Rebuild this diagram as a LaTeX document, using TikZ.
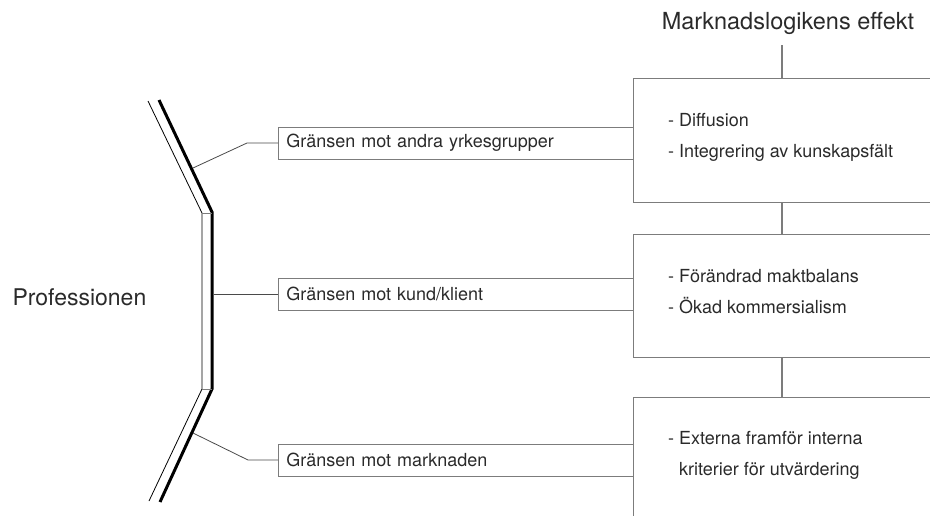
\documentclass[tikz,border=0pt]{standalone}
\usepackage{fontspec}
\setmainfont{TeX Gyre Heros}
\usepackage{tikz}
\usetikzlibrary{positioning}
\definecolor{linegray}{HTML}{7C7C7C}
\definecolor{textgray}{HTML}{2A2A2A}
\definecolor{koppgray}{HTML}{4A4A4A}

\begin{document}
\begin{tikzpicture}[x=1pt, y=-1pt,
    grans/.style={draw=linegray, line width=0.9pt, anchor=west, minimum height=32pt,
        text width=339pt, inner xsep=8pt, align=left, text=textgray,
        font=\fontsize{18}{21}\selectfont},
    effekt/.style={draw=linegray, line width=0.9pt, anchor=north west,
        minimum width=360pt, inner sep=0pt},
    punkt/.style={anchor=west, align=left, inner sep=0pt, text=textgray,
        font=\fontsize{18}{31}\selectfont},
    kopp/.style={draw=koppgray, line width=0.8pt},
    led/.style={draw=linegray, line width=1.8pt}]

    \useasboundingbox (0,0) rectangle (930,515);
    \clip (0,0) rectangle (930,515);

    % rubriker
    \node[text=textgray, font=\fontsize{23}{27}\selectfont, anchor=west] (prof) at (9,297) {Professionen};
    \node[text=textgray, font=\fontsize{23.5}{28}\selectfont] (titel) at (788,23) {Marknadslogikens effekt};

    % gränsen (dubbel linje)
    \draw[line width=0.8pt] (148,101) -- (202,213) -- (202,389) -- (149,501);
    \draw[line width=3pt] (159,100) -- (212,212) -- (212,389) -- (160,502);
    \draw[linegray, line width=0.6pt] (202,213) -- (212,213);
    \draw[linegray, line width=0.6pt] (202,389) -- (212,389);

    % effekter
    \node[effekt, minimum height=124pt] at (633,78)  (m1) {};
    \node[effekt, minimum height=123pt] at (633,234) (m2) {};
    \node[effekt, minimum height=140pt] at (633,397) (m3) {};

    \node[punkt] at (668,137.5) (p1) {- Diffusion\\- Integrering av kunskapsfält};
    \node[punkt] at (668,292)   (p2) {- Förändrad maktbalans\\- Ökad kommersialism};
    \node[punkt] at (668,455.5) (p3) {- Externa framför interna\\\hphantom{- }kriterier för utvärdering};

    % gränser
    \node[grans] at (278,143) (g1) {Gränsen mot andra yrkesgrupper};
    \node[grans] at (278,294) (g2) {Gränsen mot kund/klient};
    \node[grans] at (278,460) (g3) {Gränsen mot marknaden};

    \coordinate (k1) at (193,168);
    \coordinate (k2) at (213.5,294);
    \coordinate (k3) at (193,433);
    \coordinate (t)  at (782,45);

    \draw[kopp] (g1.west) -- ++(-31,0) -- (k1);
    \draw[kopp] (g2.west) -- (k2);
    \draw[kopp] (g3.west) -- ++(-30,0) -- (k3);

    \draw[led] (t) -- (t |- m1.north);
    \draw[led] (m1.south -| t) -- (m2.north -| t);
    \draw[led] (m2.south -| t) -- (m3.north -| t);
\end{tikzpicture}
\end{document}
